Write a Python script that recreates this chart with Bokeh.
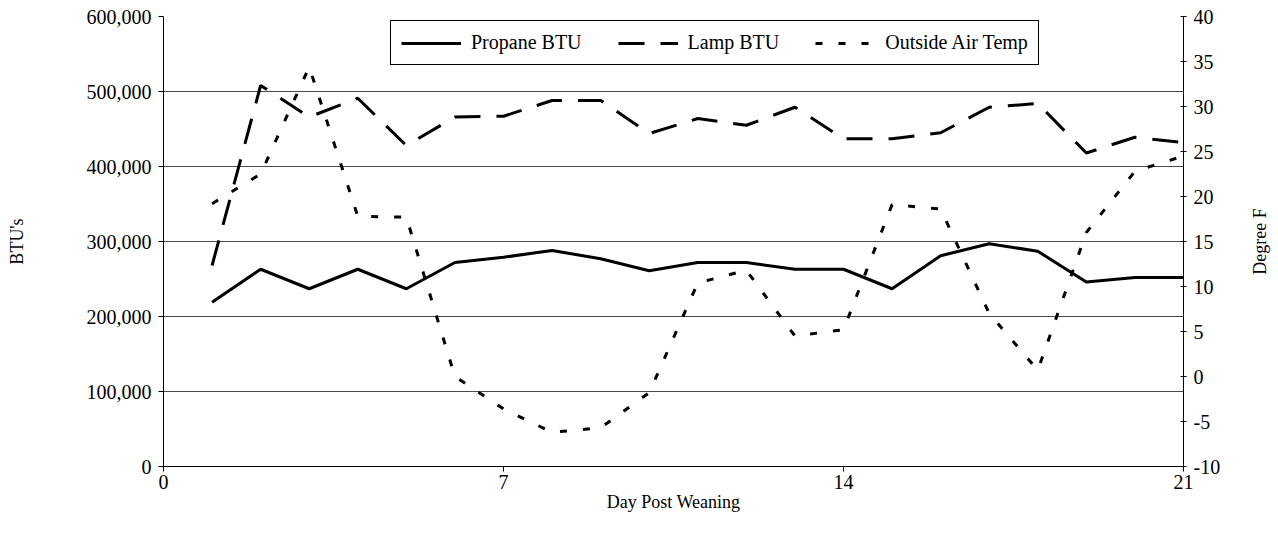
import math
from bokeh.plotting import figure
from bokeh.models import Range1d, LinearAxis, FixedTicker, NumeralTickFormatter, Legend, LegendItem, Label
from bokeh.embed import file_html
from bokeh.resources import INLINE

days = list(range(1, 22))
propane_btu = [219000, 263000, 237000, 263000, 237000, 272000, 279000, 288000, 277000, 261000,
               272000, 272000, 263000, 263000, 237000, 281000, 297000, 287000, 246000, 252000, 252000]
lamp_btu = [268000, 508000, 466000, 491000, 428000, 466000, 467000, 488000, 488000, 444000,
            464000, 455000, 479000, 437000, 437000, 445000, 479000, 484000, 418000, 439000, 432000]
outside_temp = [19.2, 22.5, 34.4, 17.8, 17.7, 0.0, -3.6, -6.2, -5.7, -1.8,
                10.4, 11.8, 4.5, 5.2, 19.1, 18.6, 7.0, 0.7, 16.0, 22.8, 24.5]

x_ticks = [0, 7, 14, 21]
btu_ticks = [0, 100000, 200000, 300000, 400000, 500000, 600000]
temp_ticks = [-10, -5, 0, 5, 10, 15, 20, 25, 30, 35, 40]
temp_labels = {t: str(t) for t in temp_ticks}

FONT = "Liberation Serif"
TICK_SIZE = "20px"
LABEL_SIZE = "18px"

p = figure(width=1278, height=540, x_range=Range1d(0, 21), y_range=Range1d(0, 600000),
           output_backend="svg", toolbar_location=None,
           min_border_left=163, min_border_right=95, min_border_top=16, min_border_bottom=74)
p.extra_y_ranges = {"temp": Range1d(-10, 40)}
p.outline_line_color = None
p.background_fill_color = "white"
p.border_fill_color = "white"

# grid
p.xgrid.visible = False
p.ygrid.ticker = FixedTicker(ticks=btu_ticks)
p.ygrid.grid_line_color = "#4a4a4a"
p.ygrid.grid_line_width = 1

# x axis
xa = p.xaxis[0]
xa.ticker = FixedTicker(ticks=x_ticks)
xa.axis_label = "Day Post Weaning"
xa.axis_label_standoff = 0
xa.major_label_standoff = 3

# left axis
ya = p.yaxis[0]
ya.ticker = FixedTicker(ticks=btu_ticks)
ya.formatter = NumeralTickFormatter(format="0,0")
ya.axis_label = "BTU's"
ya.axis_label_standoff = 57
ya.major_label_standoff = 7

# right axis
ra = LinearAxis(y_range_name="temp", ticker=FixedTicker(ticks=temp_ticks))
ra.major_label_overrides = temp_labels
ra.major_label_standoff = 7
p.add_layout(ra, "right")

for ax in (xa, ya, ra):
    ax.axis_line_color = "black"
    ax.axis_line_width = 1
    ax.major_tick_line_color = "black"
    ax.minor_tick_line_color = None
    ax.major_tick_in = 0
    ax.major_tick_out = 5
    ax.major_label_text_font = FONT
    ax.major_label_text_font_size = TICK_SIZE
    ax.major_label_text_color = "black"
    ax.axis_label_text_font = FONT
    ax.axis_label_text_font_size = LABEL_SIZE
    ax.axis_label_text_font_style = "normal"
    ax.axis_label_text_color = "black"
ra.major_tick_in = 3
ra.major_tick_out = 3
ya.major_label_orientation = "horizontal"
ra.major_label_orientation = "horizontal"

# right axis title, reading bottom-to-top as in the reference (placed in the right side panel)
right_title = Label(x=22.57, y=15, y_range_name="temp", text="Degree F", angle=math.pi / 2,
                    text_align="center", text_baseline="middle", text_font=FONT,
                    text_font_size=LABEL_SIZE, text_color="black")
p.add_layout(right_title, "right")

r1 = p.line(days, propane_btu, line_color="black", line_width=3)
r2 = p.line(days, lamp_btu, line_color="black", line_width=3, line_dash="26 16")
r3 = p.line(days, outside_temp, line_color="black", line_width=3, line_dash="7 16",
            y_range_name="temp")

legend = Legend(items=[LegendItem(label="Propane BTU", renderers=[r1]),
                       LegendItem(label="Lamp BTU", renderers=[r2]),
                       LegendItem(label="Outside Air Temp", renderers=[r3])],
                orientation="horizontal", location=(227, 401))
legend.label_text_font = FONT
legend.label_text_font_size = "20px"
legend.label_text_color = "black"
legend.glyph_width = 60
legend.glyph_height = 20
legend.label_height = 20
legend.label_standoff = 10
legend.spacing = 36
legend.padding = 10
legend.margin = 0
legend.border_line_color = "black"
legend.border_line_width = 1
legend.border_line_alpha = 1
legend.background_fill_color = "white"
legend.background_fill_alpha = 1
p.add_layout(legend, "center")

open("out.html", "w").write(file_html(p, INLINE))
